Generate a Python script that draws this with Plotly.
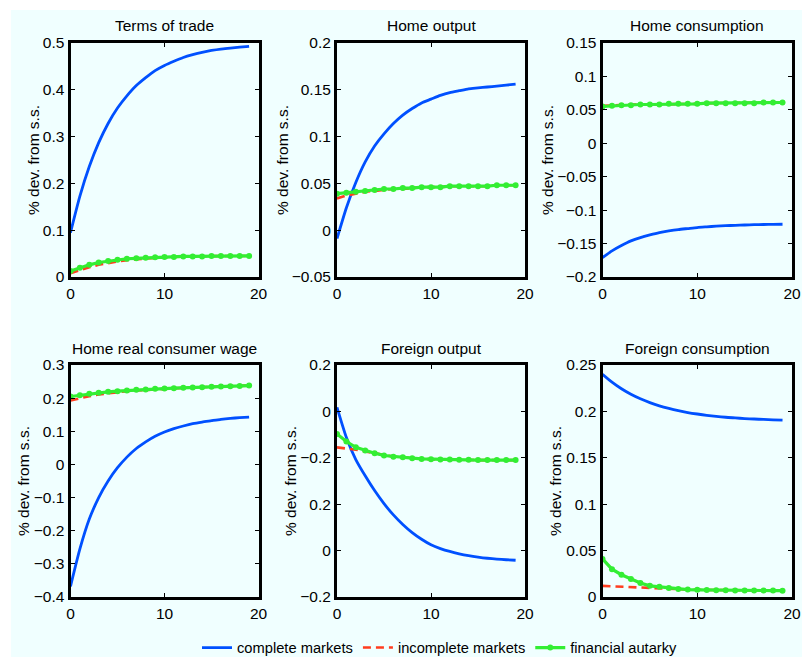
import plotly.graph_objects as go

periods = list(range(20))
series_names = ["complete markets", "incomplete markets", "financial autarky"]
panel_titles = ["Terms of trade", "Home output", "Home consumption",
                "Home real consumer wage", "Foreign output", "Foreign consumption"]

# Terms of trade
tot_complete = [0.095, 0.173, 0.236, 0.287, 0.328, 0.361, 0.387, 0.409, 0.426, 0.441,
                0.452, 0.461, 0.469, 0.475, 0.480, 0.484, 0.487, 0.489, 0.491, 0.493]
tot_incomplete = [0.008, 0.015, 0.021, 0.026, 0.030, 0.033, 0.036, 0.038, 0.040, 0.041,
                  0.042, 0.043, 0.043, 0.044, 0.044, 0.045, 0.045, 0.045, 0.045, 0.045]
tot_autarky = [0.013, 0.020, 0.026, 0.031, 0.034, 0.037, 0.039, 0.040, 0.041, 0.042,
               0.043, 0.043, 0.044, 0.044, 0.044, 0.045, 0.045, 0.045, 0.045, 0.045]

# Home output
hy_complete = [-0.009, 0.024, 0.051, 0.073, 0.090, 0.103, 0.114, 0.123, 0.130, 0.136,
               0.140, 0.144, 0.147, 0.149, 0.151, 0.152, 0.153, 0.154, 0.155, 0.156]
hy_incomplete = [0.034, 0.037, 0.039, 0.041, 0.042, 0.043, 0.044, 0.044, 0.045, 0.046,
                 0.046, 0.046, 0.047, 0.047, 0.047, 0.047, 0.047, 0.048, 0.048, 0.048]
hy_autarky = [0.039, 0.040, 0.041, 0.042, 0.043, 0.044, 0.044, 0.045, 0.045, 0.046,
              0.046, 0.046, 0.047, 0.047, 0.047, 0.047, 0.047, 0.048, 0.048, 0.048]

# Home consumption
hc_complete = [-0.171, -0.161, -0.153, -0.146, -0.141, -0.137, -0.1335, -0.131, -0.129, -0.1275,
               -0.126, -0.125, -0.124, -0.1233, -0.1227, -0.1222, -0.1218, -0.1215, -0.1213, -0.1211]
hc_incomplete = [0.056, 0.057, 0.057, 0.058, 0.058, 0.058, 0.058, 0.059, 0.059, 0.059,
                 0.059, 0.060, 0.060, 0.060, 0.060, 0.060, 0.060, 0.061, 0.061, 0.061]
hc_autarky = [0.055, 0.056, 0.057, 0.057, 0.058, 0.058, 0.058, 0.059, 0.059, 0.059,
              0.059, 0.060, 0.060, 0.060, 0.060, 0.060, 0.060, 0.061, 0.061, 0.061]

# Home real consumer wage
hw_complete = [-0.368, -0.255, -0.165, -0.100, -0.050, -0.010, 0.022, 0.048, 0.068, 0.085,
               0.098, 0.108, 0.116, 0.123, 0.128, 0.132, 0.136, 0.139, 0.141, 0.143]
hw_incomplete = [0.193, 0.200, 0.206, 0.211, 0.215, 0.218, 0.221, 0.223, 0.225, 0.227,
                 0.229, 0.230, 0.231, 0.232, 0.233, 0.234, 0.235, 0.236, 0.237, 0.238]
hw_autarky = [0.205, 0.209, 0.213, 0.216, 0.219, 0.221, 0.223, 0.225, 0.226, 0.228,
              0.229, 0.230, 0.231, 0.232, 0.233, 0.234, 0.235, 0.236, 0.237, 0.238]

# Foreign output (plotted on the panel's own scale; tick labels as printed)
fy_complete = [0.127, 0.075, 0.037, 0.009, -0.0165, -0.039, -0.0585, -0.075, -0.089, -0.1005,
               -0.110, -0.1165, -0.1215, -0.1255, -0.1287, -0.1312, -0.1332, -0.1347, -0.1358, -0.1366]
fy_incomplete = [0.058, 0.0565, 0.054, 0.051, 0.048, 0.044, 0.042, 0.041, 0.0393, 0.038,
                 0.0375, 0.037, 0.037, 0.0365, 0.0365, 0.036, 0.036, 0.036, 0.036, 0.036]
fy_autarky = [0.081, 0.068, 0.058, 0.0525, 0.048, 0.044, 0.042, 0.041, 0.0393, 0.038,
              0.0375, 0.037, 0.037, 0.0365, 0.0365, 0.036, 0.036, 0.036, 0.036, 0.036]
fy_tickvals = [-0.2, -0.12, -0.04, 0.04, 0.12, 0.2]
fy_ticktext = ["\u22120.2", "0", "0.2", "\u22120.2", "0", "0.2"]

# Foreign consumption
fc_complete = [0.240, 0.2315, 0.2244, 0.2185, 0.2136, 0.2095, 0.206, 0.2032, 0.2008, 0.1988,
               0.1972, 0.1958, 0.1947, 0.1937, 0.193, 0.1923, 0.1918, 0.1913, 0.1909, 0.1906]
fc_incomplete = [0.012, 0.0115, 0.011, 0.0105, 0.010, 0.0095, 0.009, 0.0088, 0.0085, 0.008,
                 0.0078, 0.0076, 0.0074, 0.0072, 0.0071, 0.007, 0.007, 0.0069, 0.0069, 0.0068]
fc_autarky = [0.041, 0.030, 0.024, 0.0195, 0.015, 0.012, 0.011, 0.0097, 0.0086, 0.008,
              0.0077, 0.0075, 0.0073, 0.0072, 0.0071, 0.007, 0.007, 0.0069, 0.0069, 0.0068]

panel_data = [
    (tot_complete, tot_incomplete, tot_autarky),
    (hy_complete, hy_incomplete, hy_autarky),
    (hc_complete, hc_incomplete, hc_autarky),
    (hw_complete, hw_incomplete, hw_autarky),
    (fy_complete, fy_incomplete, fy_autarky),
    (fc_complete, fc_incomplete, fc_autarky),
]
y_ranges = [[0, 0.5], [-0.05, 0.2], [-0.2, 0.15], [-0.4, 0.3], [-0.2, 0.2], [0, 0.25]]
y_dticks = [0.1, 0.05, 0.05, 0.1, None, 0.05]

W, H = 802, 657
BG = "#f0ffff"
FONT = "Liberation Sans, Arial, Helvetica, sans-serif"
col_px = [(70.5, 258.5), (337, 525), (602.5, 792)]
row_px = [(43, 277), (365, 597)]
ytitle_x = [33, 282, 547, 23, 290, 555]
title_y = [25, 348]
legend_y = 648
legend_x = 440

colors = ["#0050ff", "#ff3d1f", "#33ee33"]


def px_x(v):
    return v / W


def px_y(v):
    return 1 - v / H


fig = go.Figure()
layout = dict(
    width=W, height=H,
    margin=dict(l=0, r=0, t=0, b=0, autoexpand=False),
    paper_bgcolor=BG,
    plot_bgcolor=BG,
    font=dict(family=FONT, size=15.5, color="black"),
    showlegend=True,
    legend=dict(orientation="h", x=px_x(legend_x), y=px_y(legend_y), xanchor="center", yanchor="middle",
                bgcolor="rgba(0,0,0,0)", font=dict(size=14.7), tracegroupgap=0,
                itemwidth=30),
    shapes=[
        dict(type="rect", xref="paper", yref="paper", x0=0, x1=1, y0=px_y(10), y1=1,
             fillcolor="white", line=dict(width=0), layer="below"),
        dict(type="rect", xref="paper", yref="paper", x0=0, x1=px_x(11), y0=0, y1=1,
             fillcolor="white", line=dict(width=0), layer="below"),
    ],
    annotations=[],
)

for i in range(6):
    r, c = divmod(i, 3)
    n = i + 1
    xa = "xaxis" if n == 1 else f"xaxis{n}"
    ya = "yaxis" if n == 1 else f"yaxis{n}"
    xref = "x" if n == 1 else f"x{n}"
    yref = "y" if n == 1 else f"y{n}"
    x0, x1 = col_px[c]
    yt, yb = row_px[r]
    layout[xa] = dict(
        domain=[px_x(x0), px_x(x1)], anchor=yref, range=[0, 20], tickvals=[0, 10, 20],
        showline=True, linecolor="black", linewidth=3, mirror="allticks",
        ticks="inside", ticklen=4, tickcolor="black", tickwidth=1,
        showgrid=False, zeroline=False, tickfont=dict(size=15.5),
    )
    yd = dict(
        domain=[px_y(yb), px_y(yt)], anchor=xref, range=y_ranges[i],
        showline=True, linecolor="black", linewidth=3, mirror="allticks",
        ticks="inside", ticklen=4, tickcolor="black", tickwidth=1,
        showgrid=False, zeroline=False, tickfont=dict(size=15.5),
    )
    if y_dticks[i] is None:
        yd["tickvals"] = fy_tickvals
        yd["ticktext"] = fy_ticktext
    else:
        yd["dtick"] = y_dticks[i]
        yd["tick0"] = 0
    layout[ya] = yd

    layout["annotations"].append(dict(
        text=panel_titles[i], xref="paper", yref="paper",
        x=px_x((x0 + x1) / 2), y=px_y(title_y[r]), xanchor="center", yanchor="middle",
        showarrow=False, font=dict(size=15.5)))
    layout["annotations"].append(dict(
        text="% dev. from s.s.", xref="paper", yref="paper", textangle=-90,
        x=px_x(ytitle_x[i]), y=px_y((yt + yb) / 2), xanchor="center", yanchor="middle",
        showarrow=False, font=dict(size=15.5)))

    comp, inc, aut = panel_data[i]
    fig.add_trace(go.Scatter(x=periods, y=comp, mode="lines", name=series_names[0],
                             line=dict(color=colors[0], width=2.8, shape="spline", smoothing=0.6),
                             xaxis=xref, yaxis=yref, showlegend=(i == 0), legendgroup="c"))
    fig.add_trace(go.Scatter(x=periods, y=inc, mode="lines", name=series_names[1],
                             line=dict(color=colors[1], width=2.6, dash="8px,5px"), xaxis=xref, yaxis=yref,
                             showlegend=(i == 0), legendgroup="i"))
    fig.add_trace(go.Scatter(x=periods, y=aut, mode="lines+markers", name=series_names[2],
                             line=dict(color=colors[2], width=3.2), marker=dict(color=colors[2], size=6),
                             xaxis=xref, yaxis=yref, showlegend=(i == 0), legendgroup="a"))

fig.update_layout(**layout)
fig.write_html("out.html", config={"displayModeBar": False},
               post_script="document.body.style.margin='0';"
                           "document.documentElement.style.overflow='hidden';")
